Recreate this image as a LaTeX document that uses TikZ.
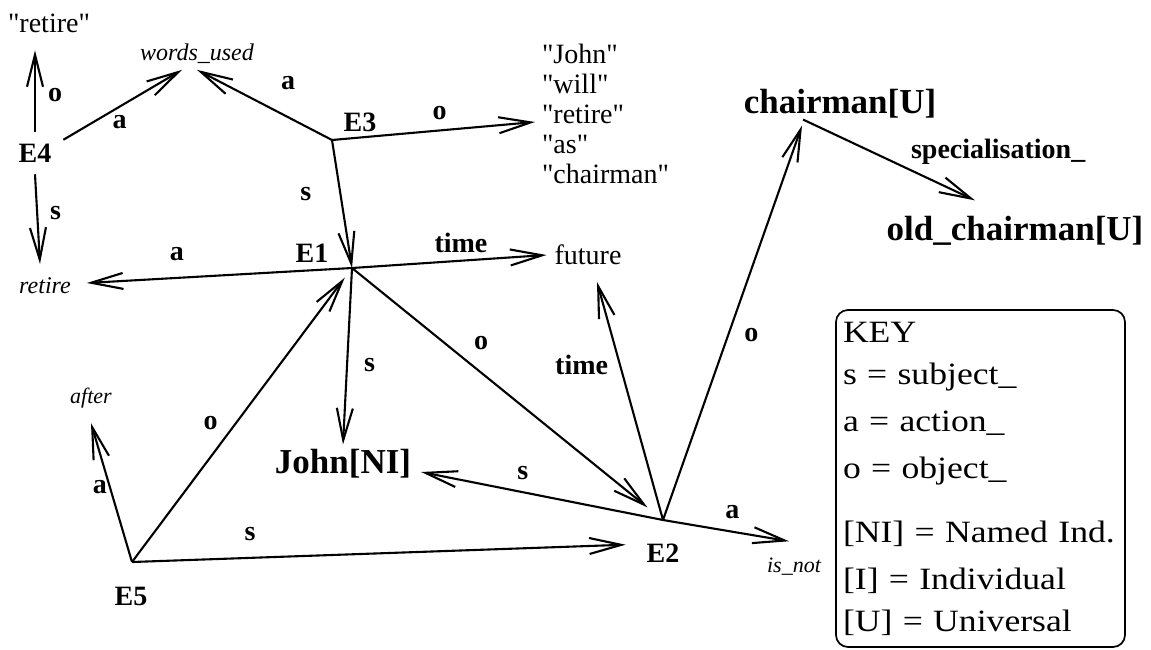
\documentclass[tikz,border=0pt]{standalone}
\usepackage{fontspec}
\setmainfont{Liberation Serif}[Ligatures=TeXOff]
\newfontfamily\keyfont[FakeStretch=1.15]{Liberation Serif}
\usetikzlibrary{arrows.meta}

\begin{document}
\begin{tikzpicture}[x=1pt,y=-1pt,line width=2.1pt,
  >={Straight Barb[length=32pt,width=16pt]},
  ev/.style={font=\fontsize{28}{32}\selectfont\bfseries, inner sep=0pt},
  lbl/.style={font=\fontsize{28}{32}\selectfont\bfseries, inner sep=2pt},
  concept/.style={font=\fontsize{35}{40}\selectfont\bfseries, inner sep=0pt},
  word/.style={font=\fontsize{28}{30}\selectfont, inner sep=0pt},
  rel/.style={font=\fontsize{24}{28}\selectfont\itshape, inner sep=0pt},
  keybox/.style={draw, rounded corners=12pt, line width=1.7pt, text width=275pt,
    inner xsep=7pt, minimum height=337pt, align=left,
    font=\fontsize{31}{45}\selectfont\keyfont}]
\useasboundingbox (0,0) rectangle (1151,649);

% event points
\coordinate (e1) at (352,268);
\coordinate (e2) at (663,520);
\coordinate (e3) at (332,140);
\coordinate (e5) at (132,562);

\node[ev, inner sep=11pt] (e4) at (35,153) {E4};
\node[ev] (e3lab) at (360,122) {E3};
\node[ev] (e1lab) at (312,253) {E1};
\node[ev] (e2lab) at (663,553) {E2};
\node[ev] (e5lab) at (131,596) {E5};

\node[word] (qretire) at (49,23) {"retire"};
\node[rel, outer sep=6pt] (words) at (197,54) {words\_used};
\node[word, anchor=west, align=left] (list) at (541,114)
  {"John"\\"will"\\"retire"\\"as"\\"chairman"};
\node[word] (future) at (588,255) {future};
\node[rel] (retireit) at (45,286) {retire};
\node[rel, font=\fontsize{22}{26}\selectfont\itshape] (after) at (91,398) {after};
\node[rel, font=\fontsize{22}{26}\selectfont\itshape] (isnot) at (794,567) {is\_not};
\node[concept] (chair) at (840,104) {chairman[U]};
\node[concept] (old) at (1015,231) {old\_chairman[U]};
\node[concept] (john) at (343,464) {John[NI]};

% E4
\draw[->] (e4.north) -- node[lbl, pos=.45, right=10pt] {o} ([xshift=-14pt,yshift=-17pt]qretire.south);
\draw[->] (e4.south) -- node[lbl, pos=.43, right=10pt] {s} ([xshift=-5pt,yshift=13pt]retireit.north);
\draw[->] (e4.25) -- node[lbl, pos=.39, below right] {a} ([xshift=-15pt]words.south);

% E3
\draw[->] (e3) -- node[lbl, pos=.43, above right, xshift=4pt, yshift=17pt] {a} (words.south);
\draw[->] (e3) -- node[lbl, pos=.53, above, yshift=8pt] {o} ([xshift=-6pt,yshift=-8pt]list.west);
\draw[->] (e3) -- node[lbl, pos=.42, left, xshift=-26pt] {s} (e1);

% E1
\draw[->] (e1) -- node[lbl, pos=.66, above, yshift=14pt] {a} ([xshift=15pt,yshift=3pt]retireit.east);
\draw[->] (e1) -- node[lbl, pos=.56, above, yshift=5pt] {time} ([xshift=-7pt]future.west);
\draw[->] (e1) -- node[lbl, pos=.55, right, xshift=14pt] {s} ([yshift=4pt]john.north);
\draw[->, shorten >=20pt] (e1) -- node[lbl, pos=.37, above right, xshift=4pt, yshift=8pt] {o} (e2);

% E2
\draw[->] (e2) -- node[lbl, pos=.65, left, xshift=-9pt] {time} ([xshift=9pt,yshift=-16pt]future.south);
\draw[->] (e2) -- node[lbl, pos=.47, right, xshift=13pt] {o} ([xshift=-38pt,yshift=-6pt]chair.south);
\draw[->] (e2) -- node[lbl, pos=.58, above, yshift=9pt] {s} ([xshift=9pt,yshift=-8pt]john.east);
\draw[->] (e2) -- node[lbl, pos=.55, above, yshift=10pt] {a} ([xshift=-5pt,yshift=16pt]isnot.north);

% chairman
\draw[->] ([xshift=-37pt]chair.south) -- node[lbl, pos=.75, above right, xshift=-24pt, yshift=13pt] {specialisation\_} ([xshift=-40pt,yshift=15pt]old.north);

% E5
\draw[->] (e5) -- node[lbl, pos=.54, left] {a} ([yshift=-14pt]after.south);
\draw[->, shorten >=12pt] (e5) -- node[lbl, pos=.43, above left, xshift=-6pt, yshift=3pt] {o} (e1);
\draw[->, shorten >=20pt] (e5) -- node[lbl, pos=.23, above, yshift=14pt] {s} ([yshift=9pt]e2lab.west);

% key
\node[keybox] (key) at (980.5,478.5) {KEY\\[-3pt]
  s = subject\_\\[2pt]
  a = action\_\\[2pt]
  o = object\_\\[19pt]
  {[NI]} = Named Ind.\\[2pt]
  {[I]} = Individual\\[-3pt]
  {[U]} = Universal};
\end{tikzpicture}
\end{document}
